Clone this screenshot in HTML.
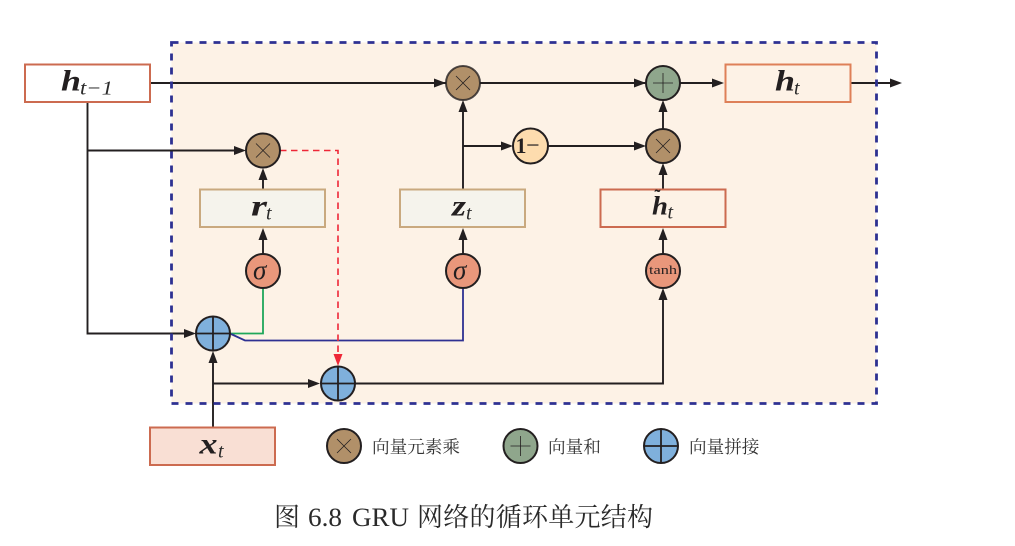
<!DOCTYPE html>
<html><head><meta charset="utf-8">
<style>
html,body{margin:0;padding:0;background:#fff;width:1015px;height:546px;overflow:hidden}
svg{display:block}
.m{font-family:"Liberation Serif",serif;font-weight:bold;font-style:italic;font-size:30px;fill:#231f20}
.s{font-family:"Liberation Serif",serif;font-style:italic;font-size:20px;fill:#2a2a2a}
.g{font-family:"Liberation Serif","Noto Serif CJK SC",serif;font-size:17.6px;fill:#333}
.c{font-family:"Liberation Serif","Noto Serif CJK SC",serif;font-size:26px;fill:#2a2a2a}
.w{fill:none;stroke:#231f20;stroke-width:1.9}
.a{fill:#231f20}
.cc{stroke:#231f20;stroke-width:2}
.t{stroke:#231f20;stroke-width:.8;fill:none}
.k{stroke:#231f20;stroke-width:1.8;fill:none}
</style></head><body>
<svg width="1015" height="546" viewBox="0 0 1015 546" xmlns="http://www.w3.org/2000/svg">
<rect x="171.5" y="42.5" width="705" height="361" fill="#fdf2e6"/>

<!-- wires -->
<path class="w" d="M150 83H446M480 83H646M680 83H716M851 83H892"/>
<path class="w" d="M87.500 102V333.500H187M87.500 150.500H237"/>
<path class="w" d="M263 189V180M263 254V236"/>
<path class="w" d="M463 189V110M463 146H504M548 146H637M663 129V110M663 189V172M463 254V236M663 254V236"/>
<path class="w" d="M213 427V358M213 383.500H312M355 383.500H663V298"/>

<path d="M230 333.500H263V288" fill="none" stroke="#1fa75a" stroke-width="1.800"/>
<path d="M231 334L245 340.500H463V288" fill="none" stroke="#2e3192" stroke-width="1.800"/>
<path d="M280 150.500H338V358" fill="none" stroke="#ee2737" stroke-width="1.600" stroke-dasharray="6.500 4.500"/>

<!-- dashed frame -->
<rect x="171.500" y="42.500" width="705" height="361" fill="none" stroke="#2e3192" stroke-width="2.800" stroke-dasharray="7 7"/>

<!-- arrowheads -->
<path class="a" d="M446 83l-12-4.500v9zM646 83l-12-4.500v9zM724 83l-12-4.500v9zM902 83l-12-4.500v9z"/>
<path class="a" d="M246 150.500l-12-4.500v9zM196 333.500l-12-4.500v9zM320 383.500l-12-4.500v9zM513 146l-12-4.500v9zM646 146l-12-4.500v9z"/>
<path class="a" d="M263 168l-4.500 12h9zM263 228l-4.500 12h9zM463 100l-4.500 12h9zM463 228l-4.500 12h9zM663 100l-4.500 12h9zM663 163l-4.500 12h9zM663 228l-4.500 12h9zM663 288l-4.500 12h9zM213 351l-4.500 12h9z"/>
<path d="M338 366l-4.500-12h9z" fill="#ee2737"/>

<!-- boxes -->
<g stroke-width="2">
<rect x="25" y="64.500" width="125" height="37.500" fill="#fff" stroke="#cc6b50"/>
<rect x="725.500" y="64.500" width="125" height="37.500" fill="#fdf2e6" stroke="#de8058"/>
<rect x="200" y="189.500" width="125" height="37.500" fill="#f5f3ec" stroke="#c9a97f"/>
<rect x="400" y="189.500" width="125" height="37.500" fill="#f5f3ec" stroke="#c9a97f"/>
<rect x="600.500" y="189.500" width="125" height="37.500" fill="#fdf2e6" stroke="#cc6b50"/>
<rect x="150" y="427.500" width="125" height="37.500" fill="#f9dfd4" stroke="#cc6b50"/>
</g>

<!-- box labels -->
<text class="m" x="61" y="90.500" textLength="20" lengthAdjust="spacingAndGlyphs">h</text>
<text class="s" x="80" y="94.500" textLength="33" lengthAdjust="spacingAndGlyphs">t−1</text>
<text class="m" x="775" y="90.500" textLength="20" lengthAdjust="spacingAndGlyphs">h</text>
<text class="s" x="794" y="94.500">t</text>
<text class="m" x="251" y="215.500" textLength="16" lengthAdjust="spacingAndGlyphs">r</text>
<text class="s" x="266" y="219.500">t</text>
<text class="m" x="452" y="215.500" textLength="14" lengthAdjust="spacingAndGlyphs">z</text>
<text class="s" x="466" y="219.500">t</text>
<text class="m" x="652" y="214.500" font-size="26" style="font-size:26px" textLength="16" lengthAdjust="spacingAndGlyphs">h</text>
<text class="s" x="667.500" y="218.500">t</text>
<text x="654.500" y="202" font-family="Liberation Serif,serif" font-size="18" fill="#231f20" font-weight="bold">˜</text>
<text class="m" x="199.500" y="453.500" textLength="18" lengthAdjust="spacingAndGlyphs">x</text>
<text class="s" x="218" y="457.500">t</text>

<!-- operators -->
<g>
<circle class="cc" cx="463" cy="83" r="17" fill="#b19069" stroke-opacity=".8"/>
<path class="t" d="M456 76l14 14M470 76l-14 14"/>
<circle class="cc" cx="663" cy="83" r="17" fill="#8fa68c"/>
<path class="t" d="M653 83h20M663 73v20"/>
<circle class="cc" cx="663" cy="146" r="17" fill="#b19069"/>
<path class="t" d="M656 139l14 14M670 139l-14 14"/>
<circle class="cc" cx="263" cy="150.500" r="17" fill="#b19069"/>
<path class="t" d="M256 143.500l14 14M270 143.500l-14 14"/>
<circle class="cc" cx="530.500" cy="146" r="17.500" fill="#fddcae"/>
<text x="515.500" y="153" font-family="Liberation Serif,serif" font-size="22" font-weight="bold" fill="#231f20">1</text>
<text x="526" y="153" font-family="Liberation Serif,serif" font-size="24" fill="#231f20">−</text>
<circle class="cc" cx="263" cy="271" r="17" fill="#e9977b"/>
<text x="253" y="279" font-family="Liberation Serif,serif" font-style="italic" font-size="27" fill="#231f20">σ</text>
<circle class="cc" cx="463" cy="271" r="17" fill="#e9977b"/>
<text x="453" y="279" font-family="Liberation Serif,serif" font-style="italic" font-size="27" fill="#231f20">σ</text>
<circle class="cc" cx="663" cy="271" r="17" fill="#e9977b"/>
<text x="663" y="274" text-anchor="middle" font-family="Liberation Serif,serif" font-size="12.500" fill="#231f20" textLength="28" lengthAdjust="spacingAndGlyphs">tanh</text>
<circle class="cc" cx="213" cy="333.500" r="17" fill="#7fb0dc"/>
<path class="k" d="M196 333.500h34M213 316.500v34"/>
<circle class="cc" cx="338" cy="383.500" r="17" fill="#7fb0dc"/>
<path class="k" d="M321 383.500h34M338 366.500v34"/>
</g>

<!-- legend -->
<circle class="cc" cx="344" cy="446" r="17" fill="#b19069"/>
<path class="t" d="M337 439l14 14M351 439l-14 14"/>
<text class="g" x="372" y="453">向量元素乘</text>
<circle class="cc" cx="520.500" cy="446" r="17" fill="#8fa68c"/>
<path class="t" d="M510.500 446h20M520.500 436v20"/>
<text class="g" x="548" y="453">向量和</text>
<circle class="cc" cx="661" cy="446" r="17" fill="#7fb0dc"/>
<path class="k" d="M644 446h34M661 429v34"/>
<text class="g" x="689" y="453">向量拼接</text>

<!-- caption -->
<text class="c" x="274" y="526">图</text>
<text class="c" x="308" y="526" textLength="34" lengthAdjust="spacingAndGlyphs">6.8</text>
<text class="c" x="352" y="526" textLength="57" lengthAdjust="spacingAndGlyphs">GRU</text>
<text class="c" x="417" y="526" letter-spacing=".25">网络的循环单元结构</text>
</svg>
</body></html>
